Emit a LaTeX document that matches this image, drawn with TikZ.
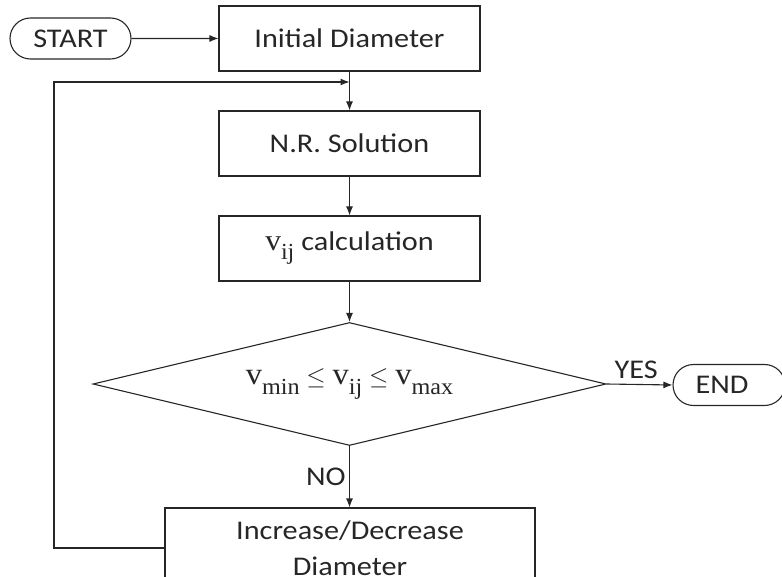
\documentclass[tikz,border=0pt]{standalone}
\usepackage{fontspec}
\setmainfont[FakeStretch=1.12]{Carlito}
\newfontfamily\serf[FakeStretch=1.05]{Liberation Serif}
\usetikzlibrary{arrows.meta,shapes.geometric,shapes.misc}
\newcommand\mvar[2][26]{{\serf\fontsize{#1}{#1}\selectfont v\raisebox{-0.3em}{\fontsize{\numexpr#1*3/4\relax}{20}\selectfont #2}}}
\newcommand\myle{{\fontsize{31}{31}\selectfont\hspace{0.22em}$\le$\hspace{0.22em}}}
\begin{document}
\begin{tikzpicture}[x=1pt,y=-1pt,
  line width=1.1pt, draw=black!85,
  every node/.style={font=\fontsize{27}{31}\selectfont, text=black!85},
  procbox/.style={draw, rectangle, minimum width=261pt, minimum height=65pt, inner sep=0pt},
  term/.style={draw, rounded rectangle, minimum height=41pt, inner sep=0pt},
  arr/.style={-{Latex[length=9pt,width=7pt]}}]
\useasboundingbox (0,0) rectangle (782,577);
\node[term, minimum width=121pt] (start) at (70.5,38.5) {START};
\node[procbox] (init) at (349.5,38.5) {Initial Diameter};
\node[procbox] (nr) at (349.5,143.5) {N.R. Solution};
\node[procbox] (vij) at (349.5,248.5) {\mvar[30]{ij} calculation};
\node[draw, diamond, minimum width=513pt, minimum height=123pt, aspect=4.17, inner sep=0pt] (dec) at (349.5,384) {\mvar[31]{min}\myle\mvar[31]{ij}\myle\mvar[31]{max}};
\node[term, minimum width=112pt] (end) at (729,385) {\hspace*{-14pt}END};
\node[draw, rectangle, minimum width=370pt, minimum height=80pt, inner sep=0pt, align=center, font=\fontsize{27}{36}\selectfont] (inc) at (350,548) {Increase/Decrease\\Diameter};
\coordinate (merge) at (349.5,82);
\coordinate (loopc) at (54,82);
\draw[arr] (start) -- (init);
\draw (init) -- (merge);
\draw[arr] (merge) -- (nr);
\draw[arr] (nr) -- (vij);
\draw[arr] (vij) -- (dec);
\draw[arr] (dec.east) -- node[above=2pt, pos=0.45] {YES} (end.west);
\draw[arr] (dec.south) -- node[left, pos=0.5] {NO} (inc.north -| dec.south);
\draw[arr] (inc.west |- 0,548) -| (loopc) -- (merge);
\end{tikzpicture}
\end{document}
